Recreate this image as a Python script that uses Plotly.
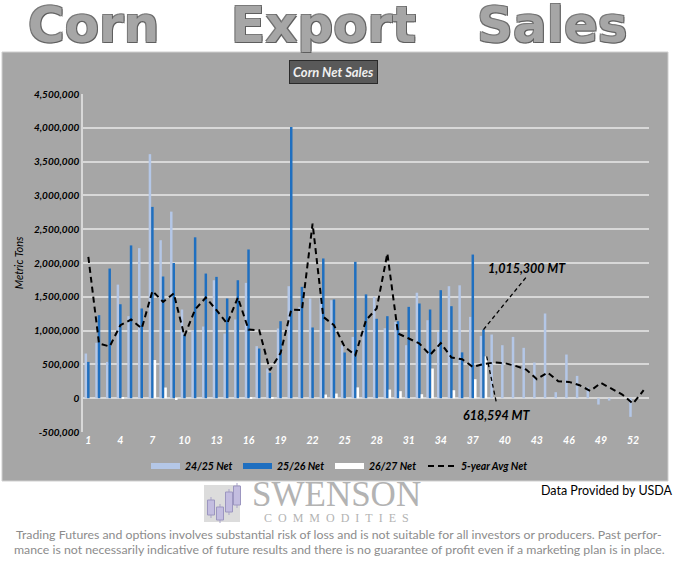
import plotly.graph_objects as go

# ---------------- data ----------------
weeks = list(range(1, 53))
avg_weeks = list(range(1, 54))

net_24_25 = [661000, 820000, 537000, 1680000, 1213000, 2220000, 3610000, 2337000, 2760000, 1312000,
             1000000, 1060000, 1745000, 957000, 1164000, 1706000, 770000, 439000, 1031000, 1657000,
             1351000, 1475000, 1475000, 1450000, 784000, 907000, 1000000, 1500000, 1035000, 1129000,
             784000, 1560000, 1154000, 981000, 1657000, 1670000, 1203000, 922000, 942000, 784000,
             907000, 745000, 528000, 1253000, 89000, 646000, 330000, 158000, -94000, -35000,
             0, -276000]

net_25_26 = [537000, 1228000, 1918000, 1390000, 2260000, 1327000, 2830000, 1800000, 2000000, 940000,
             2380000, 1844000, 1795000, 1475000, 1745000, 2200000, 735000, 375000, 1139000, 4013000,
             1647000, 1046000, 2067000, 1460000, 676000, 2017000, 1536000, 1175000, 1213000, 1139000,
             1351000, 1401000, 1312000, 1598000, 1361000, 678000, 2125000, 1015300]

net_26_27 = [0, 0, 0, 15000, 0, 0, 565000, 158000, -15000, 0,
             0, 0, 0, 0, 0, 15000, 0, 10000, 0, 0,
             0, 0, 54000, 69000, 0, 160000, 0, 0, 128000, 104000,
             0, 59000, 439000, 0, 118000, 0, 281000, 618594]

avg_5yr = [2090000, 809000, 765000, 1080000, 1164000, 1031000, 1587000, 1425000, 1549000, 920000,
           1312000, 1489000, 1302000, 1105000, 1489000, 1016000, 1006000, 414000, 670000, 1312000,
           1302000, 2584000, 1203000, 1080000, 759000, 636000, 1154000, 1327000, 2140000, 957000,
           883000, 809000, 640000, 815000, 602000, 577000, 463000, 503000, 528000, 518000,
           478000, 424000, 281000, 380000, 251000, 241000, 192000, 108000, 226000, 143000,
           54000, -79000, 118000]

y_ticks = [-500000, 0, 500000, 1000000, 1500000, 2000000, 2500000, 3000000, 3500000, 4000000, 4500000]
y_tick_text = ["-500,000", "0", "500,000", "1,000,000", "1,500,000", "2,000,000", "2,500,000",
               "3,000,000", "3,500,000", "4,000,000", "4,500,000"]
x_ticks = list(range(1, 53, 3))

series_names = ["24/25 Net", "25/26 Net", "26/27 Net", "5-year Avg Net"]
latest_label = "1,015,300 MT"
new_crop_label = "618,594 MT"

# ---------------- styling ----------------
W, H = 680, 573
L, R, T, B = 83, 31, 94, 141
PW, PH = W - L - R, H - T - B

def px(x):
    return (x - L) / PW

def py(y):
    return (H - B - y) / PH

C_LIGHT = "#b4c7e7"
C_DARK = "#1f6fc0"
C_WHITE = "#ffffff"
PANEL = "#a6a6a6"
GRID = "#d8d8d8"
BI = dict(weight="bold", style="italic")

fig = go.Figure()
fig.add_trace(go.Bar(x=weeks[:len(net_24_25)], y=net_24_25, name=series_names[0],
                     marker=dict(color=C_LIGHT, line=dict(width=0))))
fig.add_trace(go.Bar(x=weeks[:len(net_25_26)], y=net_25_26, name=series_names[1],
                     marker=dict(color=C_DARK, line=dict(width=0))))
fig.add_trace(go.Bar(x=weeks[:len(net_26_27)], y=net_26_27, name=series_names[2],
                     marker=dict(color=C_WHITE, line=dict(width=0))))
fig.add_trace(go.Scatter(x=avg_weeks, y=avg_5yr, name=series_names[3], mode="lines",
                         line=dict(color="black", width=2, dash="6px,4px")))

shapes = []
annotations = []

# gray chart panel
shapes.append(dict(type="rect", xref="paper", yref="paper", layer="below",
                   x0=px(2), x1=px(668), y0=py(481), y1=py(52),
                   fillcolor=PANEL, line=dict(color="#cfcfcf", width=1)))

# big title, word by word
for word, cx in [("Corn", 93), ("Export", 323), ("Sales", 552)]:
    annotations.append(dict(text=word, xref="paper", yref="paper", x=px(cx), y=py(25),
                            xanchor="center", yanchor="middle", showarrow=False,
                            font=dict(family="DejaVu Sans", size=50, weight="bold", color="#a6a6a6",
                                      shadow="1px 1px 0 #5e5e5e, -1px -1px 0 #7a7a7a, 1px -1px 0 #6e6e6e, -1px 1px 0 #6e6e6e")))

# chart title box
annotations.append(dict(text="Corn Net Sales", xref="paper", yref="paper", x=px(333), y=py(72),
                        xanchor="center", yanchor="middle", showarrow=False,
                        font=dict(family="Lato", size=13, color="#f0f0f0", **BI),
                        bgcolor="#595959", bordercolor="#2a2a2a", borderwidth=1, borderpad=3))

# callouts
annotations.append(dict(text=latest_label, xref="paper", yref="paper", x=px(527), y=py(268),
                        xanchor="center", yanchor="middle", showarrow=False,
                        font=dict(family="Lato", size=12.5, color="black", **BI)))
annotations.append(dict(text=new_crop_label, xref="paper", yref="paper", x=px(497), y=py(415),
                        xanchor="center", yanchor="middle", showarrow=False,
                        font=dict(family="Lato", size=12.5, color="black", **BI)))
shapes.append(dict(type="line", xref="x", yref="y", x0=38, y0=net_25_26[37], x1=42, y1=1790000,
                   line=dict(color="black", width=1.3, dash="4px,3px")))
shapes.append(dict(type="line", xref="x", yref="y", x0=38.3, y0=net_26_27[37], x1=39.2, y1=-60000,
                   line=dict(color="black", width=1.3, dash="4px,3px")))

# custom legend
leg_y = py(466)
for i, (x0, color) in enumerate([(151, C_LIGHT), (243, C_DARK), (335, C_WHITE)]):
    shapes.append(dict(type="rect", xref="paper", yref="paper", x0=px(x0), x1=px(x0 + 29),
                       y0=py(469), y1=py(463), fillcolor=color, line=dict(width=0)))
    annotations.append(dict(text=series_names[i], xref="paper", yref="paper", x=px(x0 + 32), y=leg_y,
                            xanchor="left", yanchor="middle", showarrow=False,
                            font=dict(family="Lato", size=10.5, color="black", **BI)))
shapes.append(dict(type="line", xref="paper", yref="paper", x0=px(428), x1=px(456), y0=leg_y, y1=leg_y,
                   line=dict(color="black", width=2, dash="6px,4px")))
annotations.append(dict(text=series_names[3], xref="paper", yref="paper", x=px(459), y=leg_y,
                        xanchor="left", yanchor="middle", showarrow=False,
                        font=dict(family="Lato", size=10.5, color="black", **BI)))

# source
annotations.append(dict(text="Data Provided by USDA", xref="paper", yref="paper", x=px(675), y=py(491),
                        xanchor="right", yanchor="middle", showarrow=False,
                        font=dict(family="Lato", size=12.5, color="black")))

# logo
shapes.append(dict(type="rect", xref="paper", yref="paper", x0=px(204), x1=px(240), y0=py(522), y1=py(485),
                   fillcolor="#dcdcdc", line=dict(width=0)))
for (cx, top, bot) in [(211, 500, 515), (220, 507, 520), (229, 492, 512), (237, 486, 505)]:
    shapes.append(dict(type="line", xref="paper", yref="paper", x0=px(cx), x1=px(cx),
                       y0=py(bot + 3), y1=py(top - 3), line=dict(color="#a9a3c9", width=1)))
    shapes.append(dict(type="rect", xref="paper", yref="paper", x0=px(cx - 3.5), x1=px(cx + 3.5),
                       y0=py(bot), y1=py(top), fillcolor="#c3bde0", line=dict(color="#9c96c0", width=1)))
annotations.append(dict(text="SWENSON", xref="paper", yref="paper", x=px(336), y=py(494),
                        xanchor="center", yanchor="middle", showarrow=False,
                        font=dict(family="Liberation Serif", size=35, color="#b3b3b3")))
annotations.append(dict(text="\u00a0\u00a0".join("COMMODITIES"), xref="paper", yref="paper",
                        x=px(336), y=py(518), xanchor="center", yanchor="middle", showarrow=False,
                        font=dict(family="Liberation Serif", size=12, color="#b3b3b3")))

# disclaimer
disc1 = ("Trading Futures and options involves substantial risk of loss and is not suitable for all "
         "investors or producers. Past perfor-")
disc2 = ("mance is not necessarily indicative of future results and there is no guarantee of profit "
         "even if a marketing plan is in place.")
for txt, yy in [(disc1, 534), (disc2, 549)]:
    annotations.append(dict(text=txt, xref="paper", yref="paper", x=px(339), y=py(yy),
                            xanchor="center", yanchor="middle", showarrow=False,
                            font=dict(family="Lato", size=12.3, color="#8c8c8c")))

fig.update_layout(
    width=W, height=H,
    margin=dict(l=L, r=R, t=T, b=B),
    paper_bgcolor="white",
    plot_bgcolor="rgba(0,0,0,0)",
    barmode="group", bargap=0.3, bargroupgap=0.0,
    showlegend=False,
    shapes=shapes, annotations=annotations,
    xaxis=dict(range=[0.5, 53.5], tickmode="array", tickvals=x_ticks, ticktext=[str(v) for v in x_ticks],
               showgrid=False, zeroline=False, showline=False, ticks="",
               tickfont=dict(family="Lato", size=10.5, color="white", **BI)),
    yaxis=dict(range=[-500000, 4500000], tickmode="array", tickvals=y_ticks, ticktext=y_tick_text,
               showgrid=True, gridcolor=GRID, gridwidth=1.5, zeroline=False,
               showline=True, linecolor=GRID, linewidth=1.5, ticks="",
               tickfont=dict(family="Lato", size=10, color="black", **BI),
               title=dict(text="Metric Tons", standoff=8,
                          font=dict(family="Lato", size=11, color="black", style="italic"))),
)

fig.write_html("out.html", config={"displayModeBar": False},
               post_script="document.body.style.margin='0';")
